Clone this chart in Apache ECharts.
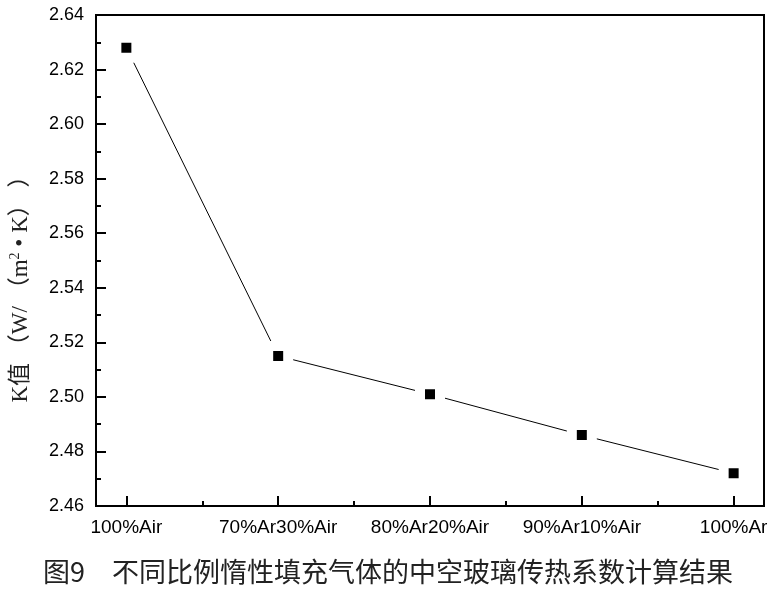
<!DOCTYPE html>
<html>
<head>
<meta charset="utf-8">
<script src="https://cdn.jsdelivr.net/npm/echarts@6/dist/echarts.min.js"></script>
<style>
html,body{margin:0;padding:0;background:#fff;}
#main{width:776px;height:596px;}
</style>
</head>
<body>
<div id="main"></div>
<script>
const categories = ['100%Air', '70%Ar30%Air', '80%Ar20%Air', '90%Ar10%Air', '100%Ar'];
const kValues = [2.628, 2.515, 2.501, 2.486, 2.472];
const yTicks = { min: 2.46, max: 2.64, step: 0.02 };
const titleText = '图9　不同比例惰性填充气体的中空玻璃传热系数计算结果';

const chart = echarts.init(document.getElementById('main'), null, { renderer: 'canvas' });
const latin = '"Liberation Sans", Arial, sans-serif';
const cjk = '"Noto Sans CJK SC", sans-serif';
const serif = '"Liberation Serif", "Noto Sans CJK SC", serif';

chart.setOption({
  animation: false,
  backgroundColor: '#fff',
  title: {
    text: titleText,
    left: 'center',
    top: 553,
    textStyle: { fontFamily: cjk, fontSize: 27, fontWeight: 'normal', color: '#222' }
  },
  grid: {
    left: 96, right: 12, top: 15, bottom: 90,
    show: true, borderColor: '#000', borderWidth: 2, backgroundColor: 'transparent'
  },
  xAxis: {
    type: 'value',
    min: -0.2,
    max: 4.2,
    splitNumber: 4,
    axisLine: { show: true, onZero: false, lineStyle: { color: '#000', width: 2 } },
    axisTick: { show: true, inside: true, length: 10, lineStyle: { color: '#000', width: 2 } },
    minorTick: { show: true, splitNumber: 2, length: 5, lineStyle: { color: '#000', width: 2 } },
    splitLine: { show: false },
    minorSplitLine: { show: false },
    axisLabel: {
      margin: 12,
      color: '#000',
      fontFamily: latin,
      fontSize: 19,
      showMinLabel: true,
      showMaxLabel: true,
      formatter: function (v) {
        const r = Math.round(v);
        return Math.abs(v - r) < 1e-6 && r >= 0 && r < categories.length ? categories[r] : '';
      }
    }
  },
  yAxis: {
    type: 'value',
    min: yTicks.min,
    max: yTicks.max,
    interval: yTicks.step,
    name: '{n|K值 （W/ （m}{s|2}{n| • K） ）}{g|　　}',
    nameLocation: 'middle',
    nameGap: 62,
    nameRotate: 90,
    nameTextStyle: {
      rich: {
        n: { fontFamily: serif, fontSize: 23, color: '#222' },
        s: { fontFamily: serif, fontSize: 14, color: '#222', verticalAlign: 'bottom', padding: [0, 0, 12, 0] },
        g: { fontFamily: cjk, fontSize: 23, color: '#fff' }
      }
    },
    axisLine: { show: true, onZero: false, lineStyle: { color: '#000', width: 2 } },
    axisTick: { show: true, inside: true, length: 10, lineStyle: { color: '#000', width: 2 } },
    minorTick: { show: true, splitNumber: 2, length: 5, lineStyle: { color: '#000', width: 2 } },
    splitLine: { show: false },
    minorSplitLine: { show: false },
    axisLabel: {
      margin: 12,
      color: '#000',
      fontFamily: latin,
      fontSize: 18,
      formatter: function (v) { return v.toFixed(2); }
    }
  },
  series: [{
    type: 'line',
    data: kValues.map(function (v, i) { return [i, v]; }),
    symbol: 'rect',
    symbolSize: 20,
    showAllSymbol: true,
    lineStyle: { color: '#000', width: 1 },
    itemStyle: { color: '#000', borderColor: '#fff', borderWidth: 10 },
    emphasis: { disabled: true },
    silent: true,
    z: 3
  }]
});
</script>
</body>
</html>
